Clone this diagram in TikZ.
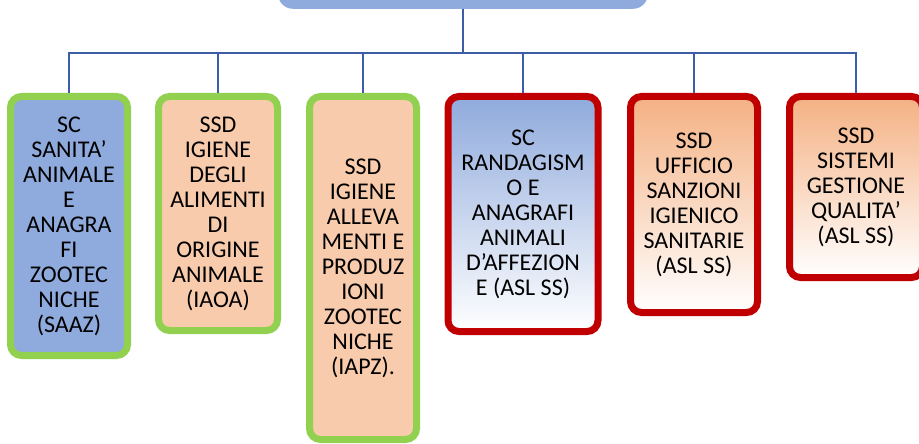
\documentclass[tikz,border=0pt]{standalone}
\usepackage{fontspec}
\setmainfont{Carlito}
\usepackage{tikz}
\usetikzlibrary{positioning}

\definecolor{unitblue}{HTML}{8FAADC}
\definecolor{unitpeach}{HTML}{F8CBAD}
\definecolor{unitorange}{HTML}{F4B183}
\definecolor{linkblue}{HTML}{3B5EA6}
\definecolor{framegreen}{HTML}{92D050}
\definecolor{framered}{HTML}{C00000}

\begin{document}
\begin{tikzpicture}[x=1pt, y=-1pt,
  link/.style={draw=linkblue, line width=2.2pt},
  unit/.style={anchor=north, align=center, rounded corners=11pt, line width=7pt,
    inner sep=1pt, font=\fontsize{24}{25}\selectfont},
  greenunit/.style={unit, draw=framegreen},
  redunit/.style={unit, draw=framered}]
  \useasboundingbox (0,0) rectangle (919,444);

  % Head box (cut by the top edge)
  \node[fill=unitblue, rounded corners=15pt, minimum width=370pt, minimum height=60pt,
    inner sep=0pt, anchor=south] (head) at (463,9) {};

  % Bus
  \coordinate (bus) at (463,53);

  % Units
  \node[greenunit, fill=unitblue, minimum width=117pt, minimum height=259pt] (saaz) at (69,93)
    {SC\\SANITA’\\ANIMALE\\E\\ANAGRA\\FI\\ZOOTEC\\NICHE\\(SAAZ)};
  \node[greenunit, fill=unitpeach, minimum width=119pt, minimum height=234pt] (iaoa) at (218,93)
    {SSD\\IGIENE\\DEGLI\\ALIMENTI\\DI\\ORIGINE\\ANIMALE\\(IAOA)};
  \node[greenunit, fill=unitpeach, minimum width=107pt, minimum height=343pt] (iapz) at (363,93)
    {SSD\\IGIENE\\ALLEVA\\MENTI E\\PRODUZ\\IONI\\ZOOTEC\\NICHE\\(IAPZ).};
  \node[redunit, top color=unitblue, bottom color=white, minimum width=150pt, minimum height=235pt] (rand) at (523,93)
    {SC\\RANDAGISM\\O E\\ANAGRAFI\\ANIMALI\\D’AFFEZION\\E (ASL SS)};
  \node[redunit, top color=unitorange, bottom color=white, minimum width=127pt, minimum height=216pt] (sanz) at (694,93)
    {SSD\\UFFICIO\\SANZIONI\\IGIENICO\\SANITARIE\\(ASL SS)};
  \node[redunit, top color=unitorange, bottom color=white, minimum width=133pt, minimum height=181pt] (qual) at (856,93)
    {SSD\\SISTEMI\\GESTIONE\\QUALITA’\\(ASL SS)};

  % Links
  \foreach \u in {saaz,iaoa,iapz,rand,sanz,qual}
    \draw[link] (head.south) -- (bus) -| (\u.north);
\end{tikzpicture}
\end{document}
